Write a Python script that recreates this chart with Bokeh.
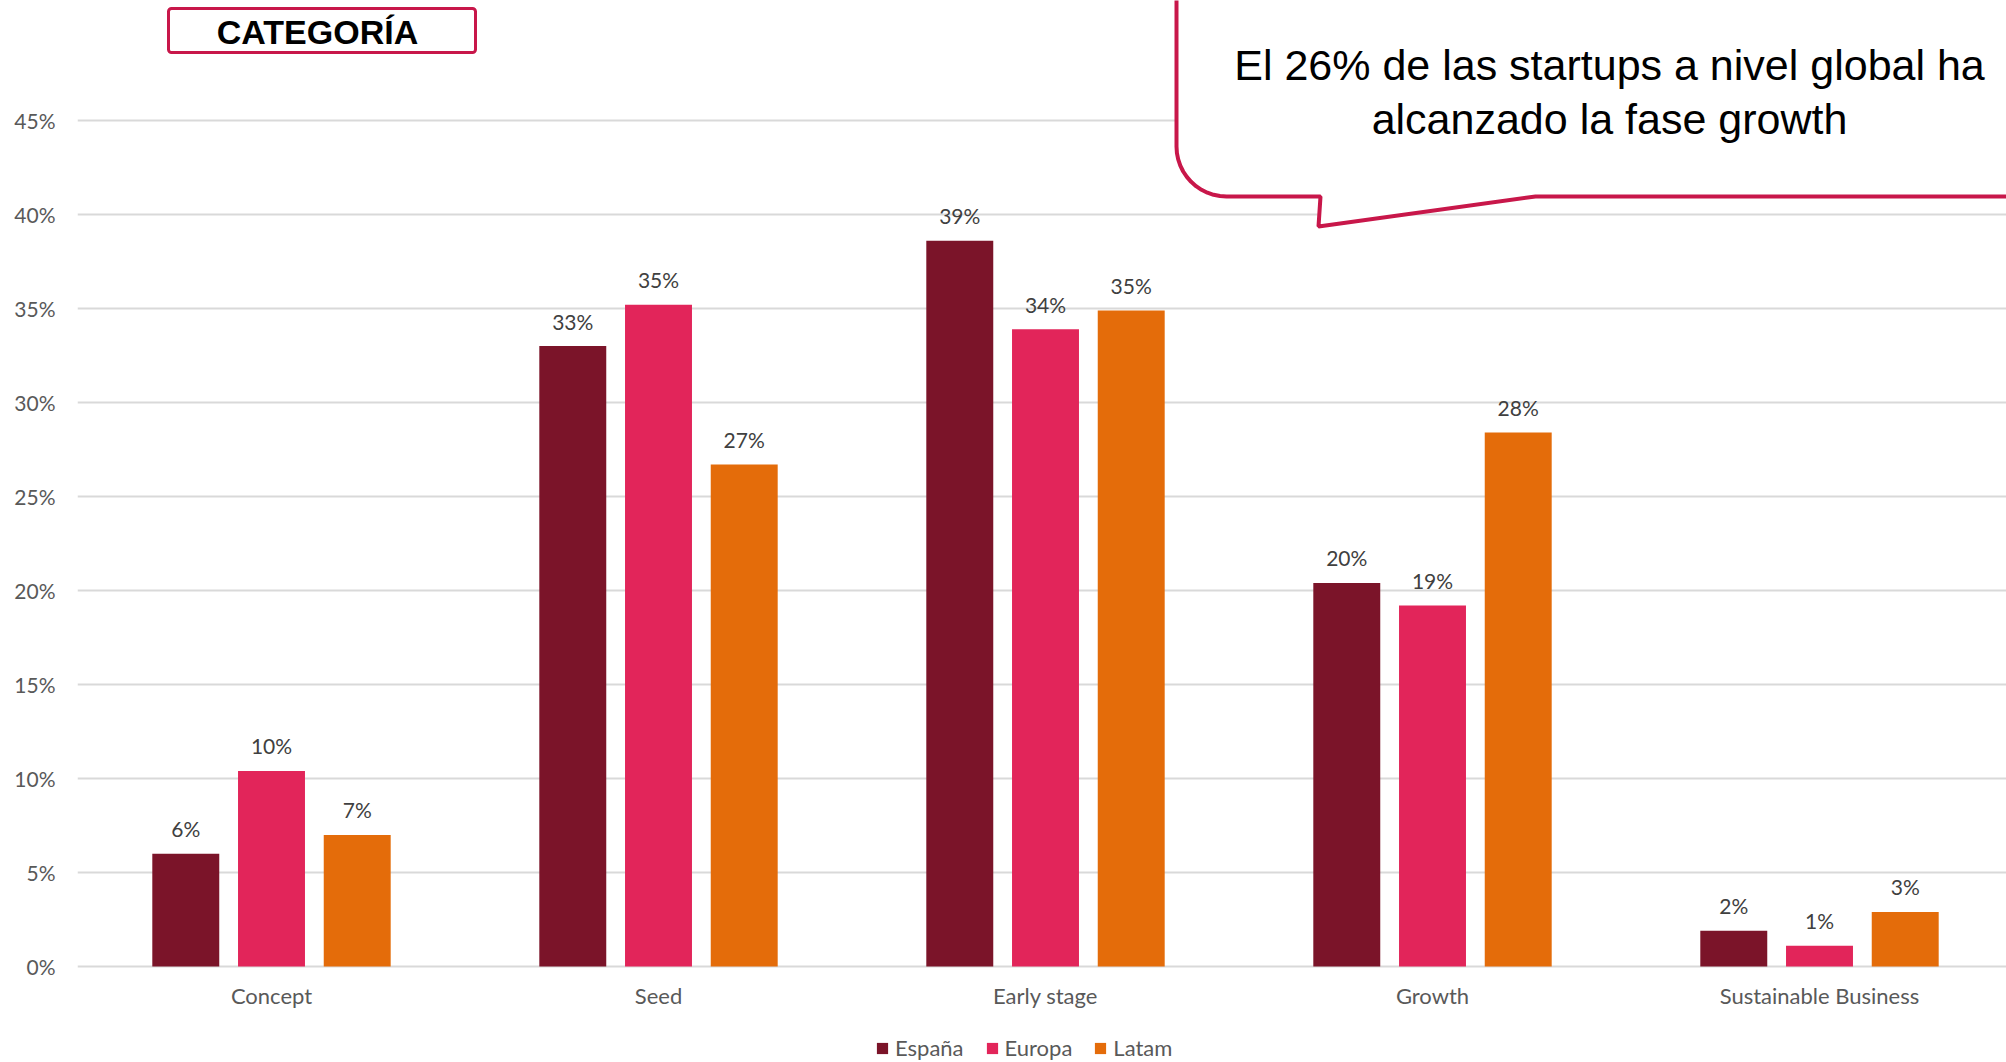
from bokeh.plotting import figure
from bokeh.models import (ColumnDataSource, Range1d, FixedTicker, PrintfTickFormatter,
                          Legend, LegendItem, PolyAnnotation, BoxAnnotation, Label)
from bokeh.transform import dodge
from bokeh.core.properties import value
from bokeh.embed import file_html
from bokeh.resources import INLINE
import math

# ---- data ----
categories = ["Concept", "Seed", "Early stage", "Growth", "Sustainable Business"]
espana = [6.0, 33.0, 38.6, 20.4, 1.9]
europa = [10.4, 35.2, 33.9, 19.2, 1.1]
latam = [7.0, 26.7, 34.9, 28.4, 2.9]
series_names = ["España", "Europa", "Latam"]
y_ticks = [0, 5, 10, 15, 20, 25, 30, 35, 40, 45]
title_text = "CATEGORÍA"
callout_lines = ["El 26% de las startups a nivel global ha", "alcanzado la fase growth"]

colors = ["#7B1429", "#E2255A", "#E46C0A"]
crimson = "#C8174A"
grid_col = "#D9D9D9"
txt_col = "#595959"
FONT = "Lato"

W, H = 2006, 1062
FRAME_L = 77            # left border (y-axis area)
ZERO_PX = 966           # pixel row of the 0% line
PX_PER_UNIT = 18.8      # pixels per 1 percentage point
CAT_PX = 387.0          # pixels per category slot
FIRST_CENTER_PX = 271.0

x_start = 0.5 - (FIRST_CENTER_PX - FRAME_L) / CAT_PX
x_end = x_start + (W - FRAME_L) / CAT_PX
y_top = ZERO_PX / PX_PER_UNIT
y_bot = -(H - ZERO_PX) / PX_PER_UNIT

def X(px):
    return x_start + (px - FRAME_L) / CAT_PX

def Y(py):
    return (ZERO_PX - py) / PX_PER_UNIT

cat_pos = [i + 0.5 for i in range(len(categories))]

src = ColumnDataSource(dict(
    pos=cat_pos,
    espana=espana, europa=europa, latam=latam,
    espana_lbl=[f"{round(v)}%" for v in espana],
    europa_lbl=[f"{round(v)}%" for v in europa],
    latam_lbl=[f"{round(v)}%" for v in latam],
))

p = figure(width=W, height=H, x_range=Range1d(x_start, x_end), y_range=Range1d(y_bot, y_top),
           output_backend="svg", toolbar_location=None,
           min_border_left=FRAME_L, min_border_right=0, min_border_top=0, min_border_bottom=0)
p.outline_line_color = None
p.background_fill_color = "white"
p.border_fill_color = "white"

offsets = [-0.2215, 0.0, 0.2215]
keys = ["espana", "europa", "latam"]
renderers = []
for k, off, c in zip(keys, offsets, colors):
    r = p.vbar(x=dodge("pos", off), top=k, width=0.173, source=src,
               fill_color=c, line_color=None)
    renderers.append(r)
    p.text(x=dodge("pos", off), y=k, text=k + "_lbl", source=src,
           text_align="center", text_baseline="alphabetic", y_offset=-25,
           text_font=value(FONT), text_font_size="21px", text_color="#404040")

# axes
p.yaxis.ticker = FixedTicker(ticks=y_ticks)
p.yaxis.formatter = PrintfTickFormatter(format="%d%%")
p.yaxis.axis_line_color = None
p.yaxis.major_tick_line_color = None
p.yaxis.minor_tick_line_color = None
p.yaxis.major_tick_out = 0
p.yaxis.major_tick_in = 0
p.yaxis.major_label_standoff = 22
p.yaxis.major_label_text_font = FONT
p.yaxis.major_label_text_font_size = "21px"
p.yaxis.major_label_text_color = txt_col

p.xaxis.fixed_location = 0
p.xaxis.ticker = FixedTicker(ticks=cat_pos)
p.xaxis.major_label_overrides = {pos: name for pos, name in zip(cat_pos, categories)}
p.xaxis.axis_line_color = None
p.xaxis.major_tick_line_color = None
p.xaxis.minor_tick_line_color = None
p.xaxis.major_tick_out = 0
p.xaxis.major_tick_in = 0
p.xaxis.major_label_standoff = 15
p.xaxis.major_label_text_font = FONT
p.xaxis.major_label_text_font_size = "22px"
p.xaxis.major_label_text_color = txt_col

p.xgrid.grid_line_color = None
p.ygrid.grid_line_color = grid_col
p.ygrid.grid_line_width = 2
p.ygrid.ticker = FixedTicker(ticks=y_ticks)

# legend (bottom-left corner in screen units from frame's bottom-left)
legend = Legend(items=[LegendItem(label=n, renderers=[r]) for n, r in zip(series_names, renderers)],
                orientation="horizontal", location=(875 - FRAME_L, 1),
                label_text_font=FONT, label_text_font_size="22px", label_text_color=txt_col,
                glyph_width=14, glyph_height=14, label_standoff=6, spacing=21,
                border_line_color=None, background_fill_alpha=0, padding=0, margin=0)
p.add_layout(legend)

# title box
p.add_layout(BoxAnnotation(left=X(168), right=X(475), top=Y(8), bottom=Y(52),
                           fill_color="white", fill_alpha=1.0, line_color=crimson, line_alpha=1.0,
                           line_width=3, border_radius=3, level="overlay"))
p.add_layout(Label(x=X(317), y=Y(31), text=title_text,
                   text_font="Liberation Sans", text_font_style="bold", text_font_size="34px",
                   text_color="black", text_align="center", text_baseline="middle", level="overlay"))

# callout shape
L, B, R, T, rad = 1176, 196, 2100, -80, 50
pts = [(L, T), (L, B - rad)]
for i in range(1, 12):
    a = i * (math.pi / 2) / 12
    pts.append((L + rad - rad * math.cos(a), B - rad + rad * math.sin(a)))
pts += [(L + rad, B), (1320, B), (1318, 226), (1535, B), (R, B), (R, T)]
p.add_layout(PolyAnnotation(xs=[X(x) for x, _ in pts], ys=[Y(y) for _, y in pts],
                            fill_color="white", fill_alpha=1.0, line_color=crimson, line_alpha=1.0,
                            line_width=4, level="overlay"))
for txt, yy in zip(callout_lines, [64, 118]):
    p.add_layout(Label(x=X(1609), y=Y(yy), text=txt,
                       text_font="Liberation Sans", text_font_size="43px", text_color="black",
                       text_align="center", text_baseline="middle", level="overlay"))

open("out.html", "w").write(file_html(p, INLINE))
